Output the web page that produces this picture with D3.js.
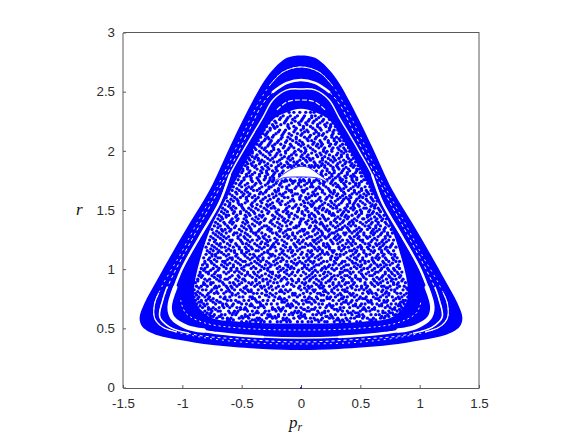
<!DOCTYPE html>
<html>
<head>
<meta charset="utf-8">
<script src="https://cdn.jsdelivr.net/npm/d3@7"></script>
<style>
    html, body { margin: 0; padding: 0; background: #fff; }
    svg { display: block; }
    .tick text { font-family: "Liberation Sans", Arial, sans-serif; font-size: 13.3px; fill: #2b2b2b; }
</style>
</head>
<body>
<div id="root"></div>
<script>
const xTicks = [-1.5, -1, -0.5, 0, 0.5, 1, 1.5],
    yTicks = [0, 0.5, 1, 1.5, 2, 2.5, 3];

const outerEdge = [[0, 2.81], [0.118, 2.79], [0.237, 2.69], [0.32, 2.58], [0.405, 2.43], [0.49, 2.265], [0.6, 2.037], [0.77, 1.673], [0.94, 1.39], [1.08, 1.15], [1.22, 0.9], [1.318, 0.718], [1.36, 0.592], [1.335, 0.515], [1.217, 0.448], [1.02, 0.406], [0.744, 0.363], [0.32, 0.33], [0, 0.321]];
const seaEdge = [[0, 2.36], [0.12, 2.33], [0.24, 2.265], [0.37, 2.07], [0.515, 1.82], [0.625, 1.61], [0.77, 1.33], [0.9, 0.85], [0.885, 0.72], [0.77, 0.6], [0.52, 0.56], [0, 0.545]];
const mainGap = [[0, 2.527], [0.118, 2.519], [0.237, 2.434], [0.32, 2.29], [0.49, 2], [0.6, 1.8], [0.685, 1.57], [0.854, 1.276], [1.02, 0.97], [1.107, 0.684], [1.082, 0.592], [0.963, 0.515], [0.71, 0.465], [0.32, 0.431], [0, 0.422]];
const mainGapLower = [[0.6, 1.8], [0.685, 1.57], [0.854, 1.276], [1.02, 0.97], [1.107, 0.684], [1.082, 0.592], [0.963, 0.515], [0.71, 0.465], [0.32, 0.431]];
const mainGapCorner = [[1.06, 0.85], [1.107, 0.684], [1.082, 0.592], [0.963, 0.515], [0.82, 0.485]];
const outerGap = [[0, 2.713], [0.152, 2.67], [0.262, 2.56], [0.389, 2.35], [0.515, 2.096], [0.668, 1.775], [0.854, 1.436], [1.02, 1.124], [1.166, 0.87], [1.234, 0.71], [1.234, 0.592], [1.166, 0.515], [0.938, 0.448], [0.515, 0.389], [0, 0.372]];
const outerGapTop = [[0, 2.713], [0.152, 2.67], [0.262, 2.56]];
const outerGapCorner = [[1.2, 0.8], [1.234, 0.71], [1.234, 0.592], [1.166, 0.515], [1.05, 0.475]];
const secondGap = [[0, 2.603], [0.118, 2.578], [0.237, 2.502], [0.33, 2.39], [0.448, 2.155], [0.583, 1.885], [0.752, 1.564], [0.921, 1.251], [1.09, 0.93], [1.166, 0.74], [1.19, 0.6], [1.107, 0.515], [0.879, 0.448], [0.515, 0.414], [0, 0.389]];
const secondGapTop = [[0, 2.603], [0.118, 2.578], [0.237, 2.502]];
const secondGapCorner = [[1.13, 0.85], [1.166, 0.74], [1.19, 0.6], [1.107, 0.515], [0.95, 0.465]];
const innerGapTop = [[0, 2.434], [0.118, 2.417], [0.203, 2.35]];
const innerGapBottom = [[0, 0.49], [0.515, 0.507], [0.811, 0.55], [0.972, 0.634], [1.014, 0.744]];
const island = [[-0.22, 1.741], [-0.135, 1.817], [-0.034, 1.868], [0.05, 1.868], [0.135, 1.817], [0.228, 1.741], [0.135, 1.775], [0.034, 1.783], [-0.067, 1.783], [-0.152, 1.775]];
const originPoint = [[0, 0]];

// chaotic sea: the individual points cannot be read one by one, these are estimates of the
// scatter row by row (r of the row, then pr x 100 of the points in it)
const seaRowR = [0.56, 0.59, 0.62, 0.65, 0.68, 0.71, 0.74, 0.77, 0.8, 0.83, 0.86, 0.89, 0.92, 0.95, 0.98, 1.01, 1.04, 1.07, 1.1, 1.13, 1.16, 1.19, 1.22, 1.25, 1.28, 1.31, 1.34, 1.37, 1.4, 1.43, 1.46, 1.49, 1.52, 1.55, 1.58, 1.61, 1.64, 1.67, 1.7, 1.73, 1.76, 1.79, 1.82, 1.85, 1.88, 1.91, 1.94, 1.97, 2, 2.03, 2.06, 2.09, 2.12, 2.15, 2.18, 2.21, 2.24, 2.27, 2.3, 2.33];
const seaRowPr = [
    [-50, -46, -43, -38, -34, -31, -26, -20, -17, -12, -9, -3, 1, 6, 9, 15, 20, 22, 28, 33, 36, 41, 47, 50],
    [-71, -66, -62, -59, -52, -49, -44, -37, -35, -29, -24, -21, -15, -12, -6, -1, 4, 8, 11, 18, 24, 27, 31, 38, 42, 45, 52, 56, 61, 67, 70],
    [-80, -77, -73, -67, -64, -58, -55, -47, -43, -40, -33, -28, -26, -19, -14, -10, -7, 0, 3, 10, 13, 17, 25, 29, 34, 37, 43, 49, 52, 59, 63, 66, 73, 78, 80],
    [-85, -81, -75, -70, -68, -61, -56, -53, -45, -41, -37, -30, -27, -21, -17, -13, -5, -2, 5, 7, 14, 20, 23, 31, 35, 39, 44, 50, 55, 58, 65, 69, 74, 81, 84],
    [-87, -83, -78, -74, -69, -65, -60, -54, -51, -47, -39, -36, -31, -24, -19, -15, -9, -4, 0, 6, 12, 16, 21, 26, 33, 36, 41, 48, 53, 57, 62, 71, 75, 79, 85],
    [-88, -82, -79, -72, -66, -63, -57, -50, -46, -42, -34, -29, -25, -20, -11, -8, -2, 2, 9, 15, 18, 24, 30, 34, 40, 46, 51, 54, 60, 64, 68, 76, 80, 83, 87],
    [-89, -84, -80, -76, -71, -62, -59, -55, -48, -44, -38, -32, -28, -23, -16, -12, -6, 1, 4, 11, 17, 19, 27, 32, 38, 43, 47, 56, 59, 66, 70, 73, 78, 86, 88],
    [-90, -86, -81, -77, -68, -64, -60, -52, -49, -43, -41, -35, -27, -22, -18, -10, -3, 3, 7, 13, 22, 25, 29, 36, 39, 45, 50, 55, 61, 67, 72, 77, 82, 85, 90],
    [-89, -85, -78, -73, -70, -65, -58, -53, -47, -40, -37, -33, -26, -21, -14, -7, -5, 2, 8, 14, 16, 23, 28, 33, 41, 44, 52, 57, 60, 63, 71, 74, 81, 84, 89],
    [-90, -83, -80, -75, -67, -61, -56, -51, -45, -42, -36, -30, -24, -17, -13, -9, 0, 5, 10, 12, 20, 26, 31, 35, 37, 46, 49, 53, 58, 65, 69, 76, 79, 86, 90],
    [-88, -84, -79, -72, -69, -63, -59, -54, -46, -39, -34, -31, -25, -19, -15, -6, -1, 6, 9, 15, 19, 24, 30, 34, 42, 47, 51, 56, 62, 68, 70, 75, 83, 87],
    [-89, -82, -76, -74, -66, -60, -57, -50, -44, -41, -35, -28, -23, -20, -11, -4, 1, 4, 11, 17, 21, 27, 32, 38, 40, 45, 54, 59, 64, 67, 73, 78, 82, 88],
    [-87, -81, -77, -71, -64, -62, -55, -49, -48, -38, -32, -29, -22, -16, -12, -8, -2, 3, 8, 13, 18, 25, 29, 36, 43, 48, 50, 55, 61, 66, 72, 77, 80, 86],
    [-86, -83, -75, -70, -68, -58, -53, -47, -43, -37, -33, -27, -21, -18, -10, -5, 0, 7, 12, 16, 22, 28, 31, 37, 39, 46, 52, 58, 60, 69, 74, 79, 84],
    [-85, -80, -78, -72, -65, -61, -56, -52, -45, -40, -36, -26, -24, -19, -14, -7, -3, 2, 10, 14, 20, 23, 33, 35, 41, 44, 49, 57, 63, 65, 71, 76, 81, 85],
    [-84, -81, -74, -69, -63, -59, -54, -50, -42, -38, -31, -28, -20, -15, -9, -6, 1, 5, 9, 18, 21, 26, 30, 34, 42, 47, 53, 56, 62, 68, 73, 78, 83],
    [-83, -79, -73, -67, -62, -57, -51, -46, -44, -35, -30, -25, -22, -13, -11, -4, 3, 6, 13, 15, 24, 27, 32, 38, 40, 48, 51, 59, 64, 67, 72, 75, 82],
    [-81, -76, -71, -66, -64, -55, -49, -47, -39, -34, -29, -23, -17, -12, -8, -1, 4, 8, 11, 19, 22, 28, 35, 37, 43, 50, 54, 57, 61, 69, 74, 80, 83],
    [-82, -77, -70, -68, -60, -58, -53, -45, -41, -37, -32, -27, -19, -16, -10, -2, 2, 7, 12, 17, 25, 29, 31, 39, 45, 46, 52, 60, 63, 66, 71, 77, 81],
    [-80, -75, -72, -65, -61, -54, -48, -43, -40, -33, -26, -24, -18, -14, -5, 0, 5, 10, 16, 20, 23, 30, 33, 36, 44, 49, 55, 58, 65, 70, 76, 79],
    [-79, -74, -69, -63, -59, -56, -50, -44, -38, -36, -28, -21, -15, -11, -7, -3, 6, 9, 14, 18, 26, 28, 34, 41, 43, 47, 53, 59, 62, 68, 73, 78],
    [-80, -73, -67, -64, -57, -52, -47, -42, -35, -31, -25, -22, -13, -9, -4, 1, 3, 11, 15, 21, 24, 32, 37, 40, 48, 51, 56, 61, 67, 72, 75, 80],
    [-78, -71, -68, -62, -55, -49, -46, -39, -34, -30, -23, -19, -12, -6, -1, 4, 8, 13, 19, 22, 27, 31, 38, 42, 46, 54, 57, 63, 66, 70, 77],
    [-77, -72, -66, -60, -58, -51, -45, -41, -37, -29, -26, -20, -16, -8, -2, 2, 10, 12, 17, 25, 30, 35, 39, 44, 50, 52, 60, 64, 69, 74, 78],
    [-76, -70, -65, -61, -53, -48, -43, -36, -32, -27, -18, -14, -10, -5, 0, 7, 9, 16, 20, 23, 29, 33, 41, 45, 49, 55, 58, 65, 71, 75],
    [-74, -69, -63, -56, -54, -47, -40, -38, -33, -24, -21, -15, -7, -3, 5, 6, 14, 18, 26, 28, 36, 38, 43, 48, 53, 59, 62, 68, 73, 77],
    [-75, -67, -64, -59, -52, -46, -42, -35, -28, -25, -17, -11, -9, 1, 3, 11, 15, 21, 24, 32, 34, 40, 47, 51, 56, 61, 66, 70, 76],
    [-73, -68, -62, -55, -50, -44, -39, -31, -29, -22, -16, -12, -4, -2, 8, 12, 19, 22, 27, 31, 37, 42, 46, 54, 57, 63, 67, 74],
    [-72, -65, -60, -57, -49, -45, -37, -34, -26, -20, -13, -8, -1, 4, 10, 13, 17, 25, 30, 35, 41, 44, 50, 55, 60, 65, 71],
    [-70, -66, -58, -53, -48, -41, -36, -30, -23, -19, -14, -6, 0, 2, 9, 16, 20, 23, 29, 33, 39, 45, 52, 53, 59, 64, 69, 72],
    [-69, -63, -61, -54, -47, -43, -35, -32, -24, -18, -10, -5, 3, 7, 11, 18, 26, 28, 34, 38, 43, 49, 56, 58, 66, 70],
    [-67, -62, -56, -51, -46, -40, -33, -27, -21, -15, -11, -3, 1, 6, 14, 21, 24, 31, 36, 40, 47, 51, 57, 61, 67],
    [-66, -59, -55, -49, -44, -38, -31, -25, -22, -12, -7, -2, 5, 12, 15, 19, 27, 30, 37, 42, 45, 53, 55, 62, 65],
    [-64, -60, -52, -50, -42, -37, -29, -26, -17, -13, -4, 0, 8, 10, 18, 23, 28, 32, 39, 44, 48, 54, 60, 63],
    [-62, -57, -53, -45, -39, -34, -28, -20, -16, -9, -6, 2, 9, 13, 17, 25, 29, 35, 41, 46, 50, 56, 61, 64],
    [-63, -56, -51, -46, -41, -36, -30, -23, -14, -11, -1, 4, 7, 16, 22, 26, 33, 38, 42, 49, 52, 59, 63],
    [-60, -54, -48, -43, -35, -32, -24, -18, -15, -5, -3, 6, 11, 14, 20, 27, 31, 37, 43, 47, 53, 57, 60],
    [-58, -52, -47, -40, -37, -29, -22, -19, -10, -8, 1, 3, 12, 18, 24, 28, 34, 40, 45, 51, 55, 59],
    [-57, -50, -44, -41, -33, -27, -25, -16, -12, -4, 0, 8, 10, 15, 21, 30, 32, 38, 44, 48, 54, 58],
    [-55, -51, -45, -38, -34, -28, -21, -17, -7, -2, 5, 9, 16, 19, 25, 29, 36, 41, 46, 49, 56],
    [-53, -48, -42, -36, -31, -26, -23, -13, -9, -1, 2, 7, 13, 22, 27, 33, 35, 43, 47, 53, 55],
    [-52, -46, -43, -35, -30, -24, -18, -3, 0, 4, 18, 26, 31, 37, 42, 45, 51, 54],
    [-50, -44, -39, -33, -29, -22, -16, 17, 24, 28, 34, 39, 46, 50, 52],
    [-49, -45, -37, -32, -27, -21, 22, 27, 32, 36, 40, 47, 49],
    [-47, -41, -38, -30, -25, -19, -14, -9, -2, 3, 9, 14, 20, 25, 30, 35, 42, 45, 48],
    [-46, -40, -34, -31, -23, -20, -12, -6, -3, 5, 11, 16, 21, 27, 33, 38, 41, 46],
    [-44, -39, -36, -28, -24, -16, -11, -7, 2, 7, 10, 18, 23, 28, 32, 40, 44],
    [-43, -37, -32, -26, -21, -17, -8, -4, 1, 6, 13, 17, 24, 30, 34, 39, 43],
    [-41, -35, -29, -25, -18, -13, -5, 0, 4, 12, 19, 22, 26, 34, 38, 41],
    [-39, -33, -30, -23, -15, -10, -6, 3, 8, 15, 20, 27, 31, 36, 40],
    [-37, -34, -27, -22, -17, -9, -2, 2, 10, 14, 18, 25, 29, 35, 38],
    [-36, -31, -25, -19, -12, -7, -1, 6, 9, 16, 23, 28, 33, 36],
    [-34, -28, -24, -16, -11, -4, 3, 7, 13, 21, 26, 30, 34],
    [-32, -29, -21, -15, -10, -3, 1, 11, 15, 19, 27, 32],
    [-31, -26, -18, -13, -5, 0, 5, 12, 17, 24, 28, 31],
    [-29, -23, -20, -11, -6, 2, 8, 14, 21, 25, 29],
    [-27, -21, -14, -8, -2, 4, 10, 16, 22, 27],
    [-25, -18, -12, -7, 1, 7, 13, 19, 24],
    [-20, -15, -9, -3, 3, 9, 12, 17, 21],
    [-10, -6, -1, 4, 8, 11]
];

// second pass of estimates between those rows, for the clumps and round the island
const clumpRowR = [0.575, 0.605, 0.635, 0.665, 0.695, 0.725, 0.755, 0.785, 0.815, 0.845, 0.875, 0.905, 0.935, 0.965, 0.995, 1.025, 1.055, 1.085, 1.115, 1.145, 1.175, 1.205, 1.235, 1.265, 1.295, 1.325, 1.355, 1.385, 1.415, 1.445, 1.475, 1.505, 1.535, 1.565, 1.595, 1.625, 1.655, 1.685, 1.715, 1.745, 1.895, 1.925, 1.955, 1.985, 2.015, 2.045, 2.075, 2.105, 2.135, 2.165, 2.195, 2.225, 2.255, 2.285, 1.75, 1.775, 1.805, 1.835, 1.865, 1.88];
const clumpRowPr = [
    [-62, -60, -57, -41, -39, -36, -33, -15, -13, -10, 12, 14, 17, 30, 32, 35, 39, 58, 60, 63],
    [-76, -74, -69, -68, -50, -47, -45, -27, -25, -22, -19, -2, 1, 3, 21, 22, 26, 47, 49, 53, 68, 71, 74],
    [-83, -79, -76, -60, -57, -54, -38, -36, -31, -8, -6, -3, 0, 15, 18, 20, 40, 42, 46, 48, 69, 71, 75, 77],
    [-78, -76, -72, -51, -48, -46, -24, -22, -18, -16, 2, 3, 9, 11, 28, 30, 33, 52, 54, 60, 62, 77, 79, 83],
    [-85, -81, -66, -62, -58, -43, -41, -34, -32, -12, -10, -7, 22, 25, 27, 44, 46, 50, 66, 68, 73, 82, 84],
    [-86, -84, -74, -69, -68, -53, -52, -37, -35, -16, -14, -4, 5, 7, 12, 36, 38, 42, 57, 59, 70, 72, 84, 86],
    [-87, -78, -74, -65, -64, -41, -39, -19, -17, -14, 6, 9, 14, 22, 24, 34, 35, 49, 52, 54, 63, 65, 80, 83],
    [-88, -83, -79, -58, -55, -30, -29, -24, -7, -5, -1, 17, 19, 31, 34, 42, 43, 47, 64, 69, 74, 87],
    [-87, -76, -71, -63, -60, -49, -44, -42, -29, -18, -16, -11, 5, 11, 19, 21, 26, 37, 39, 56, 59, 68, 72, 79],
    [-86, -73, -71, -62, -58, -48, -47, -33, -27, -21, -2, 3, 7, 16, 18, 28, 39, 43, 51, 55, 72, 73, 81, 89],
    [-82, -81, -76, -65, -56, -52, -42, -37, -28, -12, -8, 3, 13, 17, 27, 32, 37, 44, 54, 60, 65, 78, 81],
    [-87, -79, -69, -68, -53, -47, -38, -32, -26, -17, -7, -2, 7, 15, 23, 24, 35, 43, 50, 62, 69, 76, 85],
    [-84, -73, -68, -60, -52, -41, -35, -25, -19, -14, 5, 10, 20, 26, 34, 41, 46, 53, 64, 68, 75, 83],
    [-85, -78, -73, -63, -50, -45, -39, -30, -24, -12, -8, 4, 9, 19, 25, 33, 42, 51, 55, 62, 71, 77, 82],
    [-82, -76, -70, -59, -54, -48, -34, -28, -17, -12, -2, 7, 12, 17, 28, 37, 39, 51, 60, 67, 74, 79],
    [-79, -71, -65, -57, -48, -40, -33, -26, -18, -11, -8, 3, 11, 20, 23, 36, 45, 50, 58, 65, 70, 81],
    [-81, -75, -64, -60, -53, -42, -37, -27, -20, -6, -3, 1, 10, 17, 29, 34, 44, 46, 54, 62, 70, 77],
    [-78, -73, -62, -58, -51, -43, -36, -32, -21, -15, -5, 6, 15, 25, 30, 41, 47, 52, 60, 65, 72, 78],
    [-75, -72, -63, -55, -47, -39, -35, -25, -22, -12, -7, 5, 9, 14, 26, 33, 42, 48, 55, 64, 69, 79],
    [-77, -70, -67, -56, -50, -46, -31, -28, -16, -8, 1, 8, 18, 22, 27, 38, 46, 53, 61, 68, 74],
    [-76, -71, -61, -52, -46, -41, -33, -26, -17, -9, -1, 12, 16, 24, 32, 36, 45, 51, 57, 66, 71],
    [-75, -69, -60, -54, -44, -37, -28, -24, -15, -5, 6, 9, 19, 23, 35, 43, 50, 58, 64, 69, 76],
    [-73, -65, -59, -50, -43, -33, -28, -21, -14, -3, 1, 11, 15, 26, 33, 40, 44, 52, 59, 68, 72],
    [-74, -68, -63, -53, -47, -35, -31, -22, -11, -5, 5, 14, 21, 28, 32, 42, 48, 56, 62, 71],
    [-72, -67, -57, -51, -45, -38, -30, -20, -12, -7, 3, 12, 18, 24, 31, 37, 47, 53, 61, 67, 73],
    [-71, -66, -60, -50, -42, -36, -26, -18, -13, -1, 2, 10, 17, 23, 30, 41, 45, 50, 60, 64, 70],
    [-70, -61, -56, -48, -43, -33, -27, -19, -6, -4, 7, 13, 20, 29, 35, 39, 49, 58, 63, 71],
    [-70, -64, -58, -47, -41, -35, -24, -18, -9, -1, 5, 16, 18, 25, 33, 40, 44, 52, 59, 65, 72],
    [-68, -59, -54, -46, -39, -31, -25, -15, -11, 0, 6, 12, 21, 28, 36, 43, 47, 57, 63, 68],
    [-67, -63, -55, -46, -38, -33, -22, -16, -10, -3, 7, 12, 19, 31, 37, 40, 48, 56, 62, 67],
    [-65, -57, -51, -44, -39, -28, -20, -12, -8, 1, 9, 15, 24, 27, 35, 46, 51, 60, 64],
    [-64, -58, -48, -42, -36, -29, -19, -13, -2, 4, 12, 18, 22, 33, 38, 44, 50, 58, 66],
    [-61, -57, -50, -41, -34, -28, -23, -10, -5, 3, 9, 16, 25, 30, 39, 44, 49, 59, 62],
    [-60, -53, -47, -41, -33, -24, -18, -11, 3, 6, 11, 20, 26, 34, 41, 45, 52, 58],
    [-59, -54, -46, -38, -32, -26, -19, -7, -1, 5, 15, 21, 31, 36, 40, 47, 55, 60],
    [-58, -49, -44, -39, -27, -21, -16, -7, 0, 9, 12, 24, 30, 35, 41, 50, 55],
    [-55, -50, -45, -34, -30, -21, -13, -8, 2, 10, 18, 25, 28, 36, 45, 49, 56],
    [-54, -46, -42, -35, -27, -19, -12, -5, 5, 13, 16, 23, 33, 36, 42, 51],
    [-52, -47, -39, -30, -23, -18, -10, -2, 3, 9, 19, 27, 31, 37, 46, 49],
    [-50, -41, -35, -27, -24, -14, -6, 0, 7, 11, 20, 26, 34, 38, 44, 51],
    [-45, -42, -35, -28, -17, -11, -4, 1, 12, 18, 23, 31, 37, 43],
    [-43, -36, -33, -26, -18, -9, -1, 4, 8, 18, 25, 29, 36, 42],
    [-41, -38, -30, -22, -14, -10, 0, 5, 14, 20, 27, 34, 39],
    [-41, -34, -27, -20, -13, -6, 3, 9, 16, 21, 31, 36],
    [-38, -31, -23, -19, -11, -2, 4, 10, 19, 26, 32, 37],
    [-35, -28, -24, -14, -8, 0, 6, 13, 17, 24, 33],
    [-33, -26, -20, -13, -4, 1, 11, 17, 23, 30],
    [-30, -27, -17, -9, -4, 5, 12, 20, 28, 32],
    [-30, -23, -16, -8, 0, 8, 15, 18, 26],
    [-28, -19, -14, -6, 3, 6, 13, 22, 27],
    [-26, -22, -10, -4, 2, 10, 16, 24],
    [-24, -17, -11, -1, 5, 14, 20, 25],
    [-22, -13, -5, 0, 6, 11, 18],
    [-17, -11, -5, 2, 9, 15],
    [-20, -16, -12, -8, -5, -1, 3, 7, 11, 15, 19],
    [-48, -42, -37, -30, -26, -23, 24, 29, 33, 38, 43, 47],
    [-46, -41, -35, -28, -23, -18, 17, 21, 26, 32, 39, 44],
    [-49, -43, -34, -29, -24, -20, -15, 13, 18, 22, 28, 35, 41, 47],
    [-45, -39, -33, -28, -21, -16, -11, -8, 8, 11, 15, 20, 27, 31, 38, 44],
    [-19, -14, -9, -6, -2, 3, 7, 12, 17]
];

const width = 581, height = 436;

let svg = d3.select("#root").append('svg')
    .attr('width', width)
    .attr('height', height);

let xScale = d3.scaleLinear().domain([-1.5, 1.5]).range([123, 479]),
    yScale = d3.scaleLinear().domain([0, 3]).range([388, 33]);

let closedLine = d3.line().x(d => xScale(d[0])).y(d => yScale(d[1])).curve(d3.curveCatmullRomClosed),
    openLine = d3.line().x(d => xScale(d[0])).y(d => yScale(d[1])).curve(d3.curveCatmullRom);

// half contour -> whole contour, going round over the pr < 0 side
function mirrorRing(half) {
    return half.concat(half.slice(1, -1).reverse().map(d => [-d[0], d[1]]));
}

// half arc starting at pr = 0 -> arc over both sides
function mirrorArc(half) {
    return half.slice(1).reverse().map(d => [-d[0], d[1]]).concat(half);
}

function flip(points) {
    return points.map(d => [-d[0], d[1]]);
}

let plot = svg.append('g').attr('class', 'plot');

plot.append('path').attr('d', closedLine(mirrorRing(outerEdge))).attr('fill', '#0000ff');

function drawGap(points, lineGenerator, strokeWidth, dash) {
    plot.append('path')
        .attr('d', lineGenerator(points))
        .attr('fill', 'none')
        .attr('stroke', '#fff')
        .attr('stroke-width', strokeWidth)
        .attr('stroke-linecap', dash ? 'butt' : 'round')
        .attr('stroke-dasharray', dash || null);
}

drawGap(mirrorRing(outerGap), closedLine, 0.9, '2 4');
drawGap(mirrorArc(outerGapTop), openLine, 1);
drawGap(outerGapCorner, openLine, 1.2);
drawGap(flip(outerGapCorner), openLine, 1.2);
drawGap(mirrorRing(secondGap), closedLine, 1, '3 3');
drawGap(mirrorArc(secondGapTop), openLine, 2.5);
drawGap(secondGapCorner, openLine, 1.6);
drawGap(flip(secondGapCorner), openLine, 1.6);
drawGap(mirrorRing(mainGap), closedLine, 1.5);
drawGap(mainGapLower, openLine, 2.4);
drawGap(flip(mainGapLower), openLine, 2.4);
drawGap(mainGapCorner, openLine, 4.5);
drawGap(flip(mainGapCorner), openLine, 4.5);
drawGap(mirrorArc(innerGapTop), openLine, 1.2, '5 2');
drawGap(mirrorArc(innerGapBottom), openLine, 1, '2 3');

plot.append('path').attr('d', closedLine(mirrorRing(seaEdge))).attr('fill', '#fff');

let seaPoints = [];
seaRowR.forEach((r, i) => {
    seaRowPr[i].forEach(p => seaPoints.push([p / 100, r]));
});
clumpRowR.forEach((r, i) => {
    clumpRowPr[i].forEach(p => seaPoints.push([p / 100, r]));
});

plot.append('g').attr('class', 'sea')
    .selectAll('circle')
    .data(seaPoints)
    .enter()
    .append('circle')
    .attr('cx', d => xScale(d[0]))
    .attr('cy', d => yScale(d[1]))
    .attr('r', 1.65)
    .attr('fill', '#0000ff');

plot.append('path')
    .attr('d', closedLine(island))
    .attr('fill', '#fff')
    .attr('stroke', '#0000ff')
    .attr('stroke-width', 0.8);

// frame: bottom and top land on a pixel, left and right straddle two as in the reference
let axisBottom = d3.axisBottom(xScale).tickValues(xTicks).tickFormat(String).tickSize(-3).tickSizeOuter(0).tickPadding(11),
    axisLeft = d3.axisLeft(yScale).tickValues(yTicks).tickFormat(String).tickSize(-3).tickSizeOuter(0).tickPadding(8).offset(0);

function styleAxis(g) {
    g.selectAll('.domain').attr('stroke', '#5a5a5a');
    g.selectAll('.tick line').attr('stroke', '#5a5a5a');
}

svg.append('g').attr('transform', 'translate(0,388)').call(axisBottom).call(styleAxis);
svg.append('g').attr('transform', 'translate(123,0)').call(axisLeft).call(styleAxis);
svg.append('g').attr('transform', 'translate(0,32)').call(d3.axisTop(xScale).tickValues([]).tickSizeOuter(0)).call(styleAxis);
svg.append('g').attr('transform', 'translate(479,0)').call(d3.axisRight(yScale).tickValues([]).tickSizeOuter(0).offset(0)).call(styleAxis);

plot.append('g').attr('class', 'origin')
    .selectAll('circle')
    .data(originPoint)
    .enter()
    .append('circle')
    .attr('cx', d => xScale(d[0]))
    .attr('cy', d => yScale(d[1]))
    .attr('r', 1)
    .attr('fill', '#0000ff');
plot.raise();

let xLabel = svg.append('text')
    .attr('x', 289)
    .attr('y', 428)
    .attr('font-family', '"Liberation Serif", serif')
    .attr('font-style', 'italic')
    .attr('font-size', 17)
    .attr('fill', '#111');
xLabel.append('tspan').text('p');
xLabel.append('tspan').attr('dy', 3).attr('font-size', 12).text('r');

svg.append('text')
    .attr('x', 76)
    .attr('y', 215)
    .attr('font-family', '"Liberation Serif", serif')
    .attr('font-style', 'italic')
    .attr('font-size', 17)
    .attr('fill', '#111')
    .text('r');
</script>
</body>
</html>
